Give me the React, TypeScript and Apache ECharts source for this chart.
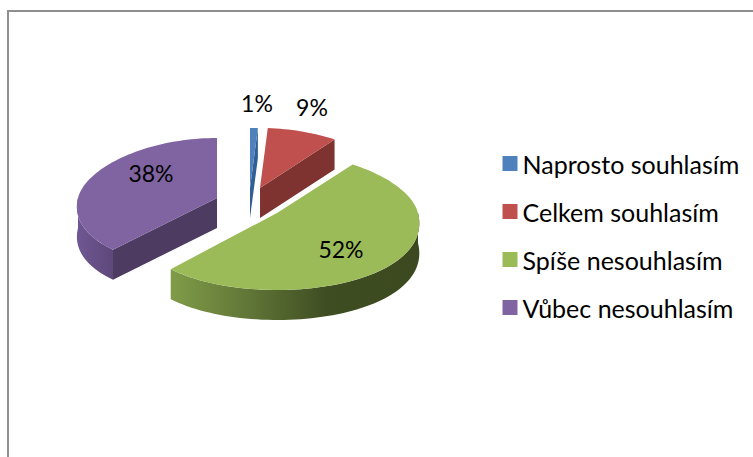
import React, { useEffect, useRef } from "react";
import * as echarts from "echarts";

const categories = ["Naprosto souhlasím", "Celkem souhlasím", "Spíše nesouhlasím", "Vůbec nesouhlasím"];
const shares = [1, 9, 52, 38];
const percentLabels = ["1%", "9%", "52%", "38%"];

const topColors = ["#4f81bd", "#c0504d", "#9bbb59", "#8064a2"];
const wallColors = ["#2f5f94", "#7e3331", "#4c5c2a", "#4e3b62"];

// layout of the exploded slices, in page pixels
const apexes = [[250, 188], [260, 188], [277, 213], [217, 198]];
const labelPositions = [[257, 103], [312, 107], [341, 249], [151, 173]];
const radiiX = [141, 139, 141, 139];
const RY_BACK = 60;
const radiiFront = [76, 76, 77, 71];
const DEPTH = 30;
const PERSPECTIVE = 0.0018;
const FONT = "Lato, Carlito, sans-serif";

const total = shares.reduce((a, b) => a + b, 0);

function rimPoint(index: number, deg: number, drop = 0) {
  const [cx, cy] = apexes[index];
  const t = (deg * Math.PI) / 180;
  const c = Math.cos(t);
  const dy = -c * (c > 0 ? RY_BACK : radiiFront[index]);
  const dx = Math.sin(t) * radiiX[index] * (1 + PERSPECTIVE * dy);
  return [cx + dx, cy + dy + drop];
}

function arc(index: number, from: number, to: number, drop = 0) {
  const pts: number[][] = [];
  const n = Math.max(2, Math.ceil(Math.abs(to - from) / 2));
  for (let i = 0; i <= n; i++) pts.push(rimPoint(index, from + ((to - from) * i) / n, drop));
  return pts;
}

function linear(x1: number, x2: number, stops: [number, string][]) {
  return {
    type: "linear", x: x1, y: 0, x2, y2: 0, global: true,
    colorStops: stops.map(([offset, color]) => ({ offset, color })),
  };
}

function makeRenderItem(index: number) {
  return (_params: any, api: any) => {
    const value = api.value(0);
    const before = shares.slice(0, index).reduce((a, b) => a + b, 0);
    const start = (before / total) * 360;
    const end = start + (value / total) * 360;
    const [cx, cy] = apexes[index];
    const children: any[] = [];
    const wall = (deg: number) => {
      const p = rimPoint(index, deg);
      children.push({
        type: "polygon",
        shape: { points: [[cx, cy], p, [p[0], p[1] + DEPTH], [cx, cy + DEPTH]] },
        style: { fill: wallColors[index] },
      });
    };
    if (start > 180) wall(start);
    if (end < 180) wall(end);
    const a = Math.max(start, 90);
    const b = Math.min(end, 270);
    if (b > a) {
      const top = arc(index, a, b);
      const bottom = arc(index, b, a, DEPTH);
      const fill = index === 2
        ? linear(173, 420, [[0, "#7f9b48"], [0.32, "#5f7436"], [0.62, "#3f4d22"], [1, "#3c4920"]])
        : index === 3
          ? linear(77, 115, [[0, "#6f5792"], [1, "#5d4779"]])
          : wallColors[index];
      children.push({ type: "polygon", shape: { points: [...top, ...bottom] }, style: { fill } });
    }
    children.push({
      type: "polygon",
      shape: { points: [[cx, cy], ...arc(index, start, end)] },
      style: { fill: topColors[index] },
    });
    const [lx, ly] = labelPositions[index];
    children.push({
      type: "text",
      x: lx,
      y: ly,
      style: {
        text: percentLabels[index],
        fill: "#000000",
        font: `23px ${FONT}`,
        align: "center",
        verticalAlign: "middle",
        textAlign: "center",
        textVerticalAlign: "middle",
      },
    });
    return { type: "group", children };
  };
}

const drawOrder = [3, 1, 0, 2];

export default function App() {
  const ref = useRef<HTMLDivElement>(null);
  useEffect(() => {
    const chart = echarts.init(ref.current!, undefined, { renderer: "svg" });
    chart.setOption({
      animation: false,
      backgroundColor: "#ffffff",
      legend: {
        data: categories,
        orient: "vertical",
        left: 497.5,
        top: 146,
        icon: "rect",
        itemWidth: 15,
        itemHeight: 15,
        itemGap: 23,
        selectedMode: false,
        textStyle: { color: "#000000", fontFamily: FONT, fontSize: 25, lineHeight: 25, padding: [0, 0, 0, 0] },
      },
      graphic: [
        { type: "rect", shape: { x: 7, y: 10, width: 746, height: 2 }, style: { fill: "#8f8f8f" }, silent: true },
        { type: "rect", shape: { x: 7, y: 10, width: 2, height: 447 }, style: { fill: "#8f8f8f" }, silent: true },
      ],
      series: drawOrder.map((i) => ({
        type: "custom",
        name: categories[i],
        coordinateSystem: "none",
        silent: true,
        itemStyle: { color: topColors[i] },
        data: [[shares[i]]],
        renderItem: makeRenderItem(i),
      })),
    });
    return () => chart.dispose();
  }, []);
  return <div ref={ref} style={{ position: "absolute", left: 0, top: 0, width: 753, height: 457 }} />;
}
